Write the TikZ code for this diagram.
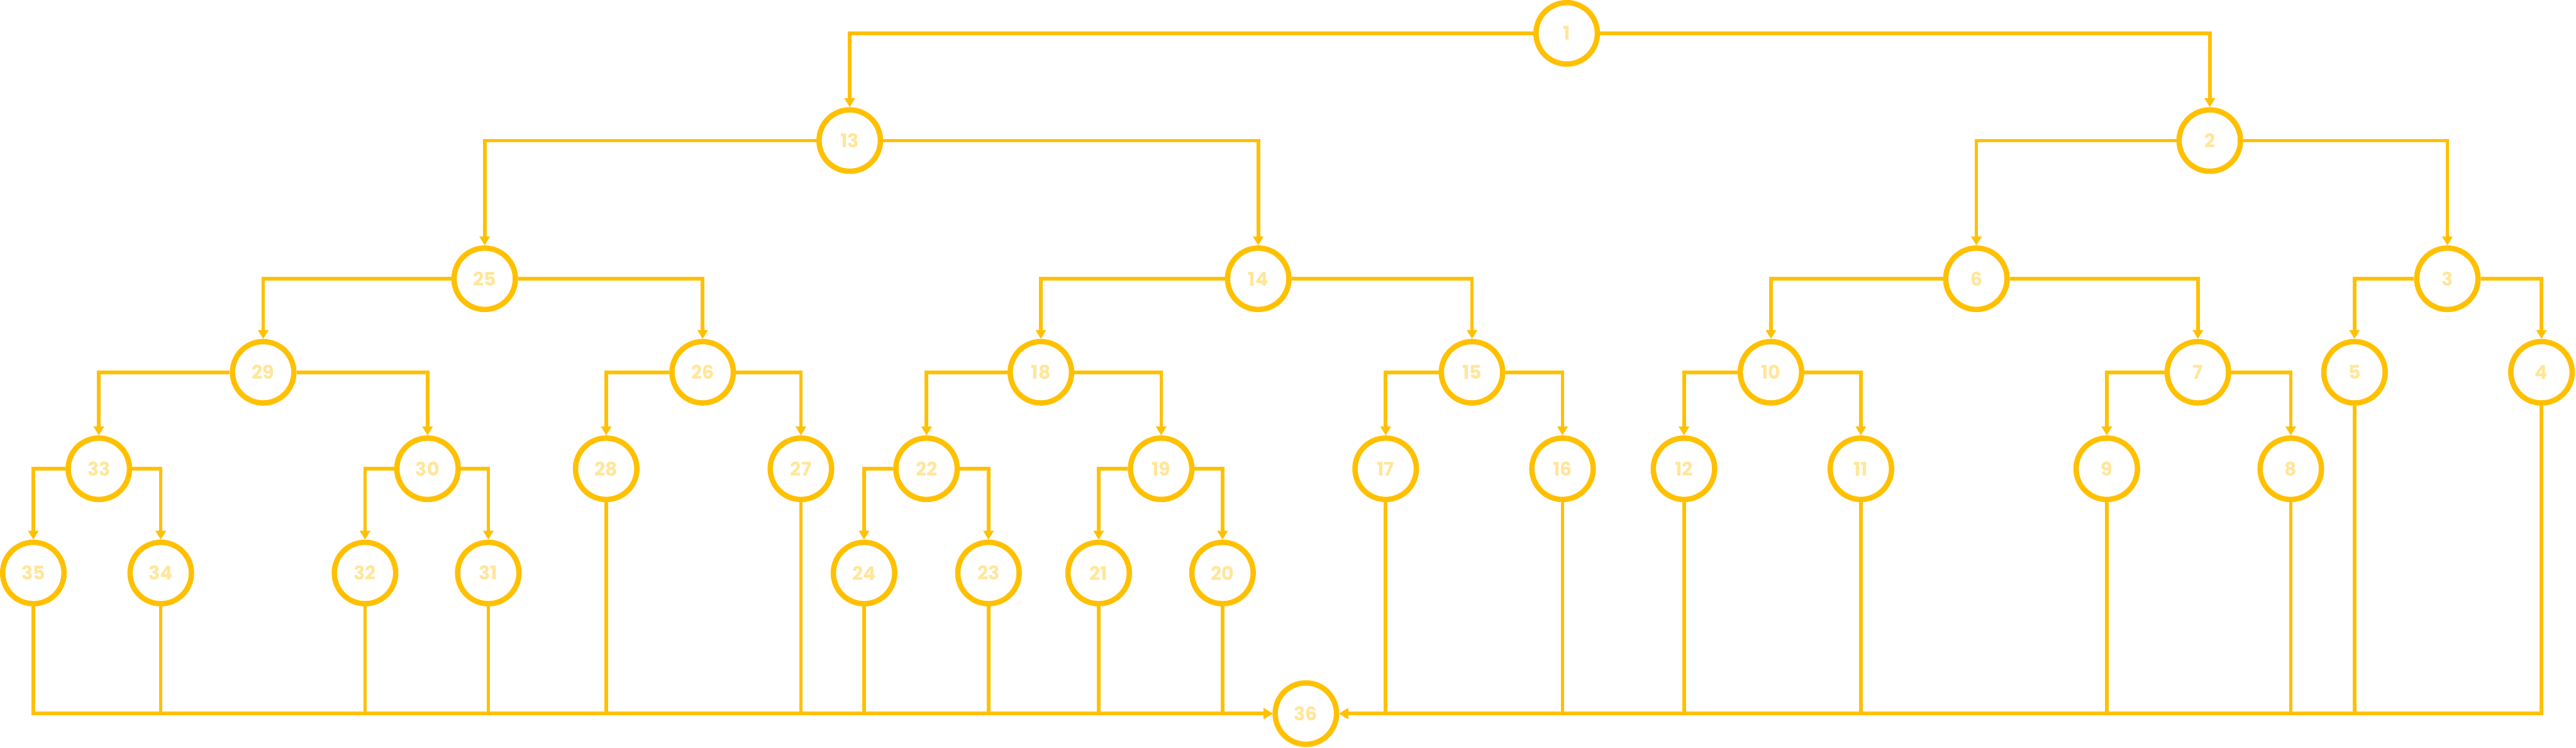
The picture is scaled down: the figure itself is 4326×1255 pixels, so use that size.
\documentclass[tikz,border=0pt]{standalone}
\usepackage{fontspec}
\newfontfamily\nodefont{Poppins}[UprightFont={* Bold}]
\usetikzlibrary{arrows.meta}
\definecolor{ringc}{HTML}{FFC000}
\definecolor{txtc}{HTML}{FFE699}
\tikzset{
  nd/.style={circle, draw=ringc, line width=0.09cm, minimum size=1.03cm, inner sep=0pt,
             font=\nodefont\fontsize{9}{10}\selectfont, text=txtc},
  conn/.style={draw=ringc, line width=0.06cm, -{Triangle[length=0.15cm,width=0.17cm]}},
}
\begin{document}
\begin{tikzpicture}[x=0.01cm,y=-0.01cm]
\useasboundingbox (0,0) rectangle (4326,1255);
\foreach \n/\x/\y in {1/2631/56, 13/1427/236, 2/3711/236,
  25/814/468, 14/2113/468, 6/3319/468, 3/4110/468,
  29/442/625, 26/1180/625, 18/1748/625, 15/2472/625, 10/2974/625, 7/3691/625, 5/3954/625, 4/4268/625,
  33/166/787, 30/718/787, 28/1018/787, 27/1345/787, 22/1556/787, 19/1950/787, 17/2327/787, 16/2624/787,
  12/2828/787, 11/3125/787, 9/3538/787, 8/3847/787,
  35/56/962, 34/270/962, 32/613/962, 31/820/962, 24/1451/962, 23/1660/962, 21/1845/962, 20/2053/962,
  36/2193/1198}
  \node[nd] (n\n) at (\x,\y) {\n};
% parent -> left child
\foreach \p/\c in {1/13, 13/25, 2/6, 25/29, 14/18, 6/10, 3/5, 29/33, 26/28, 18/22, 15/17, 10/12, 7/9, 33/35, 30/32, 22/24, 19/21}
  \draw[conn] (n\p.west) -| (n\c.north);
% parent -> right child
\foreach \p/\c in {1/2, 13/14, 2/3, 25/26, 14/15, 6/7, 3/4, 29/30, 26/27, 18/19, 15/16, 10/11, 7/8, 33/34, 30/31, 22/23, 19/20}
  \draw[conn] (n\p.east) -| (n\c.north);
% leaves -> 36
\foreach \l in {35,34,32,31,28,27,24,23,21,20}
  \draw[conn] (n\l.south) |- (n36.west);
\foreach \l in {17,16,12,11,9,8,5,4}
  \draw[conn] (n\l.south) |- (n36.east);
\end{tikzpicture}
\end{document}
